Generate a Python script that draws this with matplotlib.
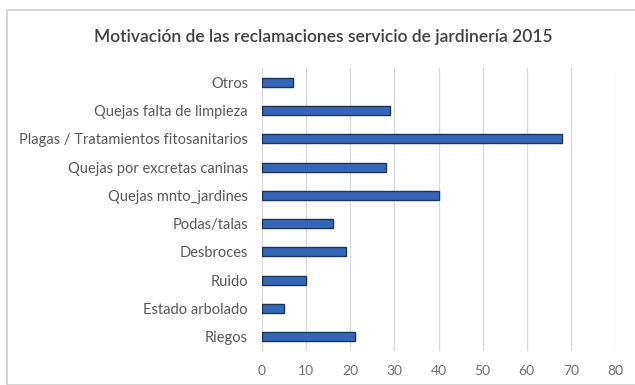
import matplotlib
matplotlib.use("Agg")
import matplotlib.pyplot as plt
from matplotlib.patches import Rectangle

# data (top to bottom)
categories = ["Otros", "Quejas falta de limpieza", "Plagas / Tratamientos fitosanitarios",
              "Quejas por excretas caninas", "Quejas mnto_jardines", "Podas/talas",
              "Desbroces", "Ruido", "Estado arbolado", "Riegos"]
values = [7, 29, 68, 28, 40, 16, 19, 10, 5, 21]
xticks = [0, 10, 20, 30, 40, 50, 60, 70, 80]
title = "Motivación de las reclamaciones servicio de jardinería 2015"

plt.rcParams['font.family'] = ['Lato', 'DejaVu Sans']

fig = plt.figure(figsize=(6.35, 3.85), dpi=100)
fig.patch.set_facecolor("white")
# chart-area border
fig.patches.append(Rectangle((7/635, 0), 1.0, 1 - 10/385, transform=fig.transFigure,
                             fill=False, edgecolor="#d0d0d0", linewidth=1.2))

ax = fig.add_axes([262/635, 1 - 351/385, 353/635, 283/385])
pos = list(range(len(categories)))
ax.barh(pos, values, height=0.32, color="#3567b8", edgecolor="#1c3458", linewidth=1.0, zorder=3)
ax.set_ylim(len(categories) - 0.5, -0.5)
ax.set_xlim(0, 80)
ax.set_xticks(xticks)
ax.set_xticklabels([str(t) for t in xticks], color="#707070", fontsize=10)
ax.set_yticks(pos)
ax.set_yticklabels(categories, color="#595959", fontsize=10.5)
ax.tick_params(length=0, pad=10)
ax.tick_params(axis="x", pad=10)
ax.grid(axis="x", color="#d9d9d9", linewidth=0.9, zorder=0)
for s in ax.spines.values():
    s.set_visible(False)

fig.text(323/635, 1 - 37/385, title, ha="center", va="center", fontsize=12.5,
         color="#404040", fontweight="semibold")

fig.savefig("out.png", dpi=100)
